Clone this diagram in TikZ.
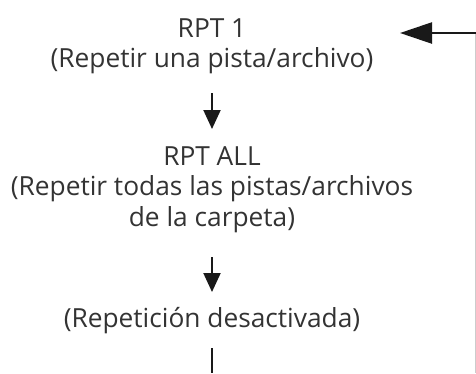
\documentclass[tikz,border=0pt]{standalone}
\usepackage{fontspec}
\setmainfont{Open Sans}
\usetikzlibrary{arrows.meta}
\begin{document}
\begin{tikzpicture}[x=1pt,y=-1pt,
  lbl/.style={anchor=base,inner sep=0pt,text=black!80,font=\fontsize{26.3}{30}\selectfont},
  flow/.style={line width=2pt,draw=black!90,-{Triangle[length=19pt,width=17pt]}},
  back/.style={line width=2.4pt,draw=black!90,-{Triangle[length=32pt,width=21pt]}},
  plain/.style={line width=2pt,draw=black!90},
  side/.style={line width=1pt,draw=black!20}]
\useasboundingbox (0,0) rectangle (476,373);
\node[lbl] (r1a) at (212,37) {RPT 1};
\node[lbl] (r1b) at (212,67) {(Repetir una pista/archivo)};
\node[lbl] (r2a) at (212,165) {RPT ALL};
\node[lbl] (r2b) at (212,195) {(Repetir todas las pistas/archivos};
\node[lbl] (r2c) at (212,226) {de la carpeta)};
\node[lbl] (r3) at (212,327) {(Repetición desactivada)};
\coordinate (a1s) at (212,93);
\coordinate (a1e) at (212,129);
\coordinate (a2s) at (212,257);
\coordinate (a2e) at (212,292);
\coordinate (bs) at (212,348);
\coordinate (be) at (212,373);
\coordinate (tr) at (476,33);
\coordinate (tl) at (400,33);
\coordinate (sb) at (475.5,373);
\coordinate (st) at (475.5,33);
\draw[flow] (a1s) -- (a1e);
\draw[flow] (a2s) -- (a2e);
\draw[plain] (bs) -- (be);
\draw[side] (st) -- (sb);
\draw[back] (tr) -- (tl);
\end{tikzpicture}
\end{document}
